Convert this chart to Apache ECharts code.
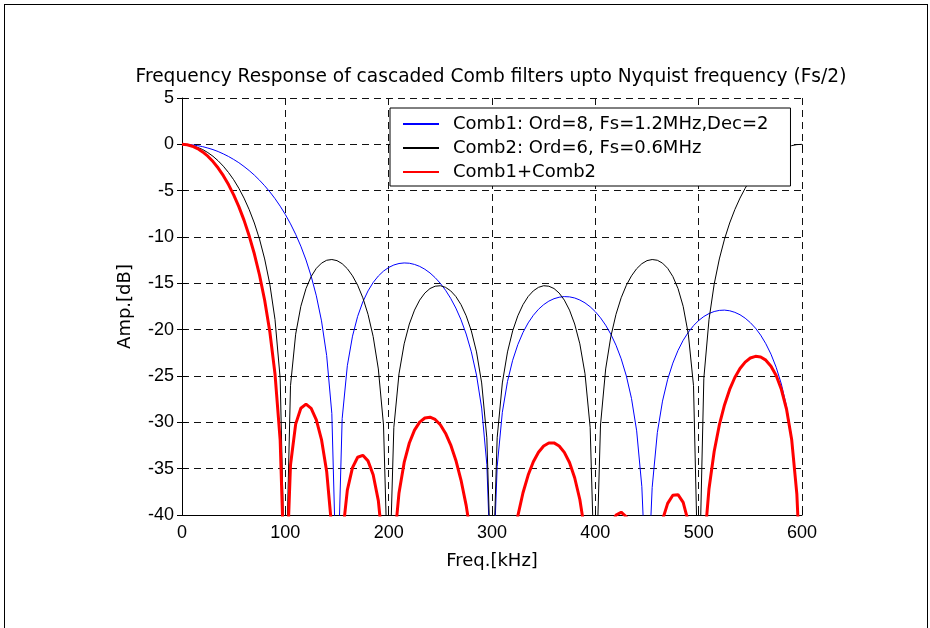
<!DOCTYPE html>
<html>
<head>
<meta charset="utf-8">
<script src="https://cdn.jsdelivr.net/npm/echarts@6/dist/echarts.min.js"></script>
<style>
  html, body { margin: 0; padding: 0; background: #fff; }
  #chart { width: 930px; height: 628px; }
</style>
</head>
<body>
<div id="chart"></div>
<script>
// Frequency axis samples (kHz)
const freqKHz = [0,5,10,15,20,25,30,35,40,45,50,55,60,65,70,75,80,85,90,95,
  100,105,110,115,120,125,130,135,140,145,150,155,160,165,170,175,180,185,190,195,
  200,205,210,215,220,225,230,235,240,245,250,255,260,265,270,275,280,285,290,295,
  300,305,310,315,320,325,330,335,340,345,350,355,360,365,370,375,380,385,390,395,
  400,405,410,415,420,425,430,435,440,445,450,455,460,465,470,475,480,485,490,495,
  500,505,510,515,520,525,530,535,540,545,550,555,560,565,570,575,580,585,590,595,600];

// Comb1: Ord=8, Fs=1.2MHz, Dec=2  (dB; nulls below the -40 floor)
const comb1 = [0,-0.02,-0.06,-0.14,-0.25,-0.40,-0.57,-0.78,-1.03,-1.31,
  -1.63,-1.98,-2.39,-2.83,-3.32,-3.87,-4.47,-5.13,-5.86,-6.67,
  -7.57,-8.58,-9.71,-10.99,-12.48,-14.23,-16.35,-19.05,-22.79,-29.05,
  -50,-29.60,-23.89,-20.70,-18.56,-17.00,-15.82,-14.91,-14.21,-13.68,
  -13.29,-13.02,-12.86,-12.80,-12.83,-12.96,-13.17,-13.48,-13.88,-14.39,
  -15.00,-15.74,-16.62,-17.67,-18.93,-20.47,-22.39,-24.90,-28.46,-34.55,
  -50,-34.78,-28.92,-25.58,-23.30,-21.61,-20.30,-19.27,-18.45,-17.80,
  -17.30,-16.92,-16.66,-16.50,-16.43,-16.46,-16.58,-16.80,-17.11,-17.53,
  -18.06,-18.72,-19.52,-20.49,-21.68,-23.14,-24.99,-27.43,-30.92,-36.94,
  -50,-37.04,-31.11,-27.71,-25.36,-23.61,-22.24,-21.15,-20.28,-19.57,
  -19.01,-18.58,-18.26,-18.04,-17.92,-17.89,-17.96,-18.13,-18.39,-18.76,
  -19.24,-19.84,-20.59,-21.52,-22.65,-24.06,-25.86,-28.26,-31.70,-37.68,-50];

// Comb2: Ord=6, Fs=0.6MHz
const comb2 = [0,-0.03,-0.14,-0.32,-0.56,-0.89,-1.29,-1.78,-2.36,-3.04,
  -3.82,-4.74,-5.80,-7.04,-8.49,-10.23,-12.37,-15.10,-18.90,-25.25,
  -50,-26.04,-20.49,-17.48,-15.56,-14.26,-13.38,-12.82,-12.51,-12.43,
  -12.55,-12.88,-13.42,-14.19,-15.21,-16.56,-18.34,-20.74,-24.24,-30.29,
  -50,-30.55,-24.76,-21.53,-19.39,-17.89,-16.81,-16.05,-15.56,-15.31,
  -15.26,-15.43,-15.81,-16.42,-17.30,-18.50,-20.13,-22.40,-25.75,-31.67,
  -50,-31.67,-25.75,-22.40,-20.13,-18.50,-17.30,-16.42,-15.81,-15.43,
  -15.26,-15.31,-15.56,-16.05,-16.81,-17.89,-19.39,-21.53,-24.76,-30.55,
  -50,-30.29,-24.24,-20.74,-18.34,-16.56,-15.21,-14.19,-13.42,-12.88,
  -12.55,-12.43,-12.51,-12.82,-13.38,-14.26,-15.56,-17.48,-20.49,-26.04,
  -50,-25.25,-18.90,-15.10,-12.37,-10.23,-8.49,-7.04,-5.80,-4.74,
  -3.82,-3.04,-2.36,-1.78,-1.29,-0.89,-0.56,-0.32,-0.14,-0.03,0];

// Comb1+Comb2
const combSum = [0,-0.05,-0.20,-0.46,-0.82,-1.28,-1.86,-2.56,-3.38,-4.34,
  -5.45,-6.72,-8.18,-9.87,-11.81,-14.10,-16.83,-20.23,-24.77,-31.92,
  -50,-34.61,-30.19,-28.48,-28.04,-28.49,-29.73,-31.86,-35.30,-41.48,
  -50,-42.49,-37.31,-34.89,-33.77,-33.56,-34.16,-35.66,-38.45,-43.97,
  -50,-43.57,-37.62,-34.33,-32.23,-30.84,-29.98,-29.53,-29.45,-29.69,
  -30.26,-31.17,-32.43,-34.09,-36.23,-38.96,-42.52,-47.29,-54.21,-66.22,
  -80,-66.45,-54.67,-47.98,-43.43,-40.10,-37.60,-35.69,-34.26,-33.23,
  -32.56,-32.23,-32.22,-32.55,-33.24,-34.34,-35.98,-38.33,-41.87,-48.09,
  -60,-49.01,-43.75,-41.23,-40.01,-39.70,-40.20,-41.61,-44.34,-49.82,
  -60,-49.46,-43.62,-40.53,-38.74,-37.87,-37.81,-38.64,-40.76,-45.61,
  -55,-43.83,-37.16,-33.14,-30.28,-28.12,-26.45,-25.16,-24.19,-23.50,
  -23.06,-22.88,-22.95,-23.29,-23.94,-24.95,-26.43,-28.57,-31.84,-37.71,-50];

const seriesNames = ['Comb1: Ord=8, Fs=1.2MHz,Dec=2', 'Comb2: Ord=6, Fs=0.6MHz', 'Comb1+Comb2'];
const titleText = 'Frequency Response of cascaded Comb filters upto Nyquist frequency (Fs/2)';
const xName = 'Freq.[kHz]';
const yName = 'Amp.[dB]';

const pairs = arr => freqKHz.map((f, i) => [f, arr[i]]);

const chart = echarts.init(document.getElementById('chart'), null, { renderer: 'canvas' });
const textFont = 'DejaVu Sans';
const tickFont = 'Liberation Sans';
const gridLine = { show: true, lineStyle: { color: '#111', type: [7, 5], width: 1 } };

chart.setOption({
  animation: false,
  backgroundColor: '#fff',
  grid: { left: 182, top: 98, width: 620, height: 417, containLabel: false },
  xAxis: [{
    type: 'value', min: 0, max: 600, interval: 100, position: 'bottom',
    axisLine: { show: true, onZero: false, lineStyle: { color: '#000', width: 1 } },
    axisTick: { show: true, inside: true, length: 5, lineStyle: { color: '#000' } },
    axisLabel: { margin: 9, fontFamily: tickFont, fontSize: 18, color: '#000' },
    splitLine: gridLine,
    name: xName, nameLocation: 'middle', nameGap: 37,
    nameTextStyle: { fontFamily: textFont, fontSize: 18, color: '#000' }
  }, {
    type: 'value', min: 0, max: 600, interval: 100, position: 'top',
    axisLine: { show: false }, axisLabel: { show: false }, splitLine: { show: false },
    axisTick: { show: true, inside: true, length: 5, lineStyle: { color: '#000' } }
  }],
  yAxis: [{
    type: 'value', min: -40, max: 5, interval: 5, position: 'left',
    axisLine: { show: true, onZero: false, lineStyle: { color: '#000', width: 1 } },
    axisTick: { show: true, inside: true, length: 5, lineStyle: { color: '#000' } },
    axisLabel: { margin: 8, fontFamily: tickFont, fontSize: 18, color: '#000' },
    splitLine: gridLine,
    name: yName, nameLocation: 'middle', nameGap: 48, nameRotate: 90,
    nameTextStyle: { fontFamily: textFont, fontSize: 18, color: '#000' }
  }, {
    type: 'value', min: -40, max: 5, interval: 5, position: 'right',
    axisLine: { show: false }, axisLabel: { show: false }, splitLine: { show: false },
    axisTick: { show: true, inside: true, length: 5, lineStyle: { color: '#000' } }
  }],
  legend: {
    orient: 'vertical', left: 390, top: 108,
    padding: [6, 22, 4, 12],
    itemWidth: 36, itemHeight: 12, itemGap: 4,
    backgroundColor: '#fff', borderColor: '#000', borderWidth: 1, borderRadius: 0,
    selectedMode: false,
    itemStyle: { opacity: 0 },
    textStyle: { fontFamily: textFont, fontSize: 18, color: '#000', lineHeight: 20, padding: [0, 0, 0, 9] },
    data: seriesNames
  },
  series: [
    { name: seriesNames[0], type: 'line', data: pairs(comb1), symbol: 'none', clip: true,
      lineStyle: { color: '#0000ff', width: 1 }, itemStyle: { color: '#0000ff' }, emphasis: { disabled: true } },
    { name: seriesNames[1], type: 'line', data: pairs(comb2), symbol: 'none', clip: true,
      lineStyle: { color: '#000000', width: 1 }, itemStyle: { color: '#000000' }, emphasis: { disabled: true } },
    { name: seriesNames[2], type: 'line', data: pairs(combSum), symbol: 'none', clip: true,
      lineStyle: { color: '#ff0000', width: 3 }, itemStyle: { color: '#ff0000' }, emphasis: { disabled: true } }
  ],
  graphic: [
    { type: 'text', x: 491, y: 77, style: { text: titleText, fontFamily: textFont, fontSize: 18.6,
      fill: '#000', align: 'center', verticalAlign: 'middle', textAlign: 'center', textVerticalAlign: 'middle' } },
    { type: 'line', shape: { x1: 4.5, y1: 4, x2: 4.5, y2: 628 }, style: { stroke: '#000', lineWidth: 1 } },
    { type: 'line', shape: { x1: 4, y1: 4.5, x2: 928, y2: 4.5 }, style: { stroke: '#000', lineWidth: 1 } },
    { type: 'line', shape: { x1: 927.5, y1: 4, x2: 927.5, y2: 628 }, style: { stroke: '#000', lineWidth: 1 } }
  ]
});
</script>
</body>
</html>
